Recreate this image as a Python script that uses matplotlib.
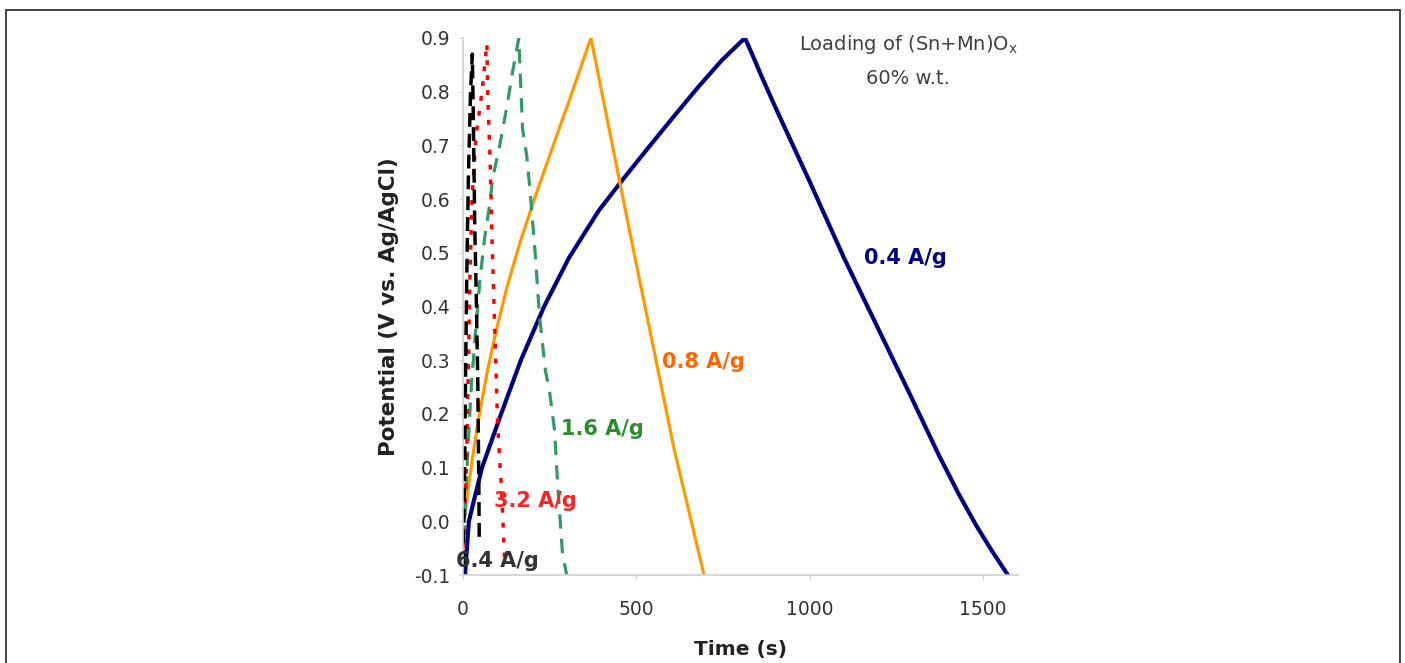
import matplotlib
matplotlib.use("Agg")
import matplotlib.pyplot as plt
from matplotlib.patches import Rectangle

plt.rcParams['font.family'] = ['DejaVu Sans']
plt.rcParams['axes.unicode_minus'] = False
plt.rcParams['mathtext.default'] = 'regular'

# 0.4 A/g  (charge then discharge)
t_04 = [6, 17, 55, 110, 167, 234, 306, 392, 464, 536, 608, 680, 747, 813,
        835, 860, 900, 1000, 1099, 1200, 1286, 1373, 1430, 1480, 1525, 1571]
v_04 = [-0.1, 0.0, 0.1, 0.2, 0.3, 0.4, 0.491, 0.579, 0.639, 0.697, 0.754, 0.81, 0.859, 0.9,
        0.868, 0.83, 0.772, 0.632, 0.49, 0.355, 0.24, 0.122, 0.05, -0.008, -0.055, -0.1]
# 0.8 A/g
t_08 = [3, 17, 32, 49, 69, 95, 127, 164, 208, 257, 311, 369,
        421, 479, 542, 608, 695]
v_08 = [0.0, 0.07, 0.137, 0.205, 0.275, 0.353, 0.436, 0.518, 0.604, 0.694, 0.792, 0.9,
        0.732, 0.545, 0.346, 0.137, -0.1]
# 1.6 A/g
t_16 = [0, 8, 18, 25, 36, 49, 63, 77, 86, 106, 126, 144, 161,
        166, 172, 184, 193, 207, 221, 238, 250, 264, 273, 287, 299]
v_16 = [-0.08, 0.05, 0.18, 0.26, 0.35, 0.45, 0.53, 0.59, 0.64, 0.7, 0.77, 0.84, 0.9,
        0.82, 0.73, 0.68, 0.62, 0.51, 0.38, 0.28, 0.24, 0.17, 0.07, -0.06, -0.1]
# 3.2 A/g
t_32 = [0, 10, 16, 20, 26, 38, 55, 69,
        72, 78, 85, 92, 100, 112, 120]
v_32 = [-0.05, 0.1, 0.3, 0.45, 0.6, 0.72, 0.8, 0.89,
        0.78, 0.68, 0.5, 0.35, 0.18, 0.05, -0.07]
# 6.4 A/g
t_64 = [0, 5, 8, 12, 16, 22, 27,
        30, 34, 39, 43, 46, 47]
v_64 = [-0.08, 0.1, 0.3, 0.5, 0.65, 0.8, 0.87,
        0.75, 0.55, 0.4, 0.25, 0.05, -0.03]

fig = plt.figure(figsize=(14.05, 6.63), dpi=100)
ax = fig.add_axes([0.3295, 0.1327, 0.3950, 0.8100])

ax.plot(t_04, v_04, color='#000080', lw=3.0)
ax.plot(t_08, v_08, color='#ff9900', lw=2.3)
ax.plot(t_16, v_16, color='#339966', lw=2.3, dashes=(4.5, 3.2))
ax.plot(t_32, v_32, color='#ff0000', lw=2.5, dashes=(1.4, 2.9))
ax.plot(t_64, v_64, color='#000000', lw=2.5, dashes=(4, 2))

ax.text(1155, 0.49, '0.4 A/g', color='#000080', fontsize=15, fontweight='bold', va='center')
ax.text(575, 0.297, '0.8 A/g', color='#ff6600', fontsize=15, fontweight='bold', va='center')
ax.text(282, 0.172, '1.6 A/g', color='#2e8b2e', fontsize=15, fontweight='bold', va='center')
ax.text(89, 0.038, '3.2 A/g', color='#ff2020', fontsize=15, fontweight='bold', va='center')
ax.text(-20, -0.074, '6.4 A/g', color='#333333', fontsize=15, fontweight='bold', va='center')

ax.text(1284, 0.887, r'Loading of (Sn+Mn)O$_\mathregular{x}$', color='#404040',
        fontsize=14, ha='center', va='center')
ax.text(1284, 0.824, '60% w.t.', color='#404040', fontsize=14, ha='center', va='center')

ax.set_xlim(0, 1600)
ax.set_ylim(-0.1, 0.9)
ax.set_xticks([0, 500, 1000, 1500])
ax.set_yticks([-0.1, 0.0, 0.1, 0.2, 0.3, 0.4, 0.5, 0.6, 0.7, 0.8, 0.9])
ax.set_yticklabels(['%.1f' % v for v in ax.get_yticks()])

for side in ['top', 'right']:
    ax.spines[side].set_visible(False)
for side in ['left', 'bottom']:
    ax.spines[side].set_color('#d0d0d0')
    ax.spines[side].set_linewidth(1.2)
ax.tick_params(axis='both', colors='#d0d0d0', labelcolor='#333333', labelsize=13.5, length=3)
ax.tick_params(axis='x', pad=15)
ax.tick_params(axis='y', pad=6)

ax.set_xlabel('Time (s)', fontsize=14.5, fontweight='bold', color='#222222', labelpad=15)
ax.set_ylabel('Potential (V vs. Ag/AgCl)', fontsize=15.5, fontweight='bold', color='#222222', labelpad=11)

fig.add_artist(Rectangle((6.5 / 1405, -0.1), (1400 - 6.5) / 1405, 1.1 - 10.5 / 663,
                         transform=fig.transFigure, fill=False, ec='#333333', lw=1.3))

fig.savefig('out.png', dpi=100)
